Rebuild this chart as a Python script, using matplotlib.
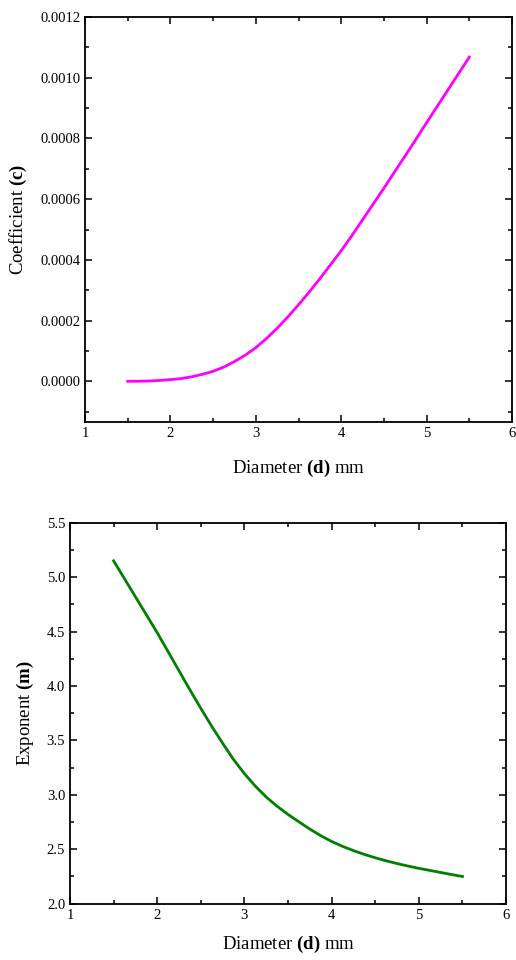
import matplotlib
matplotlib.use("Agg")
import matplotlib.pyplot as plt
from matplotlib.ticker import MultipleLocator, FormatStrFormatter

plt.rcParams['font.family'] = ['Liberation Serif', 'DejaVu Serif']
plt.rcParams['mathtext.fontset'] = 'custom'
plt.rcParams['mathtext.rm'] = 'Liberation Serif'
plt.rcParams['mathtext.bf'] = 'Liberation Serif:bold'

# Data
diameter = [1.5, 1.625, 1.75, 1.875, 2.0, 2.125, 2.25, 2.375, 2.5, 2.625, 2.75, 2.875,
            3.0, 3.125, 3.25, 3.375, 3.5, 3.625, 3.75, 3.875, 4.0, 4.125, 4.25, 4.375,
            4.5, 4.625, 4.75, 4.875, 5.0, 5.125, 5.25, 5.375, 5.5]
coefficient = [0.0, 0.0000003, 0.000001, 0.000003, 0.0000056, 0.000009, 0.000015, 0.000023,
               0.000033, 0.000047, 0.000065, 0.000086, 0.000111, 0.000141, 0.000175, 0.000212,
               0.000252, 0.000294, 0.000338, 0.000384, 0.00043, 0.00048, 0.000532, 0.000584,
               0.000636, 0.00069, 0.000743, 0.000797, 0.000852, 0.000906, 0.00096, 0.001014,
               0.001068]
exponent = [5.15, 4.985, 4.82, 4.655, 4.49, 4.315, 4.14, 3.965, 3.795, 3.63, 3.475, 3.325,
            3.195, 3.08, 2.98, 2.895, 2.82, 2.752, 2.686, 2.625, 2.572, 2.527, 2.488, 2.453,
            2.422, 2.394, 2.369, 2.346, 2.325, 2.306, 2.287, 2.268, 2.25]

W, H = 516, 960
fig = plt.figure(figsize=(W / 100, H / 100), dpi=100)

ax1 = fig.add_axes([85 / W, 1 - 421.7 / H, (512 - 85) / W, (421.7 - 17) / H])
ax2 = fig.add_axes([70 / W, 1 - 903.7 / H, (506 - 70) / W, (903.7 - 522.7) / H])

ax1.plot(diameter, coefficient, color='#ff00ff', lw=2.0, solid_joinstyle='round')
ax2.plot(diameter, exponent, color='#007f00', lw=2.0, solid_joinstyle='round')

ax1.set_xlim(1, 6)
ax1.set_ylim(-0.000133, 0.0012)
ax1.yaxis.set_major_locator(MultipleLocator(0.0002))
ax1.yaxis.set_minor_locator(MultipleLocator(0.0001))
ax1.yaxis.set_major_formatter(FormatStrFormatter('%.4f'))

ax2.set_xlim(1, 6)
ax2.set_ylim(2.0, 5.5)
ax2.yaxis.set_major_locator(MultipleLocator(0.5))
ax2.yaxis.set_minor_locator(MultipleLocator(0.25))
ax2.yaxis.set_major_formatter(FormatStrFormatter('%.1f'))

for ax in (ax1, ax2):
    ax.xaxis.set_major_locator(MultipleLocator(1))
    ax.xaxis.set_minor_locator(MultipleLocator(0.5))
    ax.tick_params(which='both', direction='in', top=True, right=True,
                   labelsize=10.5, width=1.1, colors='black')
    ax.tick_params(which='major', length=5)
    ax.tick_params(which='minor', length=3)
    for s in ax.spines.values():
        s.set_linewidth(1.3)

ax1.set_xlabel(r'Diameter $\mathbf{(d)}$ mm', fontsize=13.5, labelpad=13)
ax2.set_xlabel(r'Diameter $\mathbf{(d)}$ mm', fontsize=13.5, labelpad=9)
ax1.set_ylabel(r'Coefficient $\mathbf{(c)}$', fontsize=13.5, labelpad=8)
ax2.set_ylabel(r'Exponent $\mathbf{(m)}$', fontsize=13.5, labelpad=8)

fig.savefig('out.png', dpi=100)
